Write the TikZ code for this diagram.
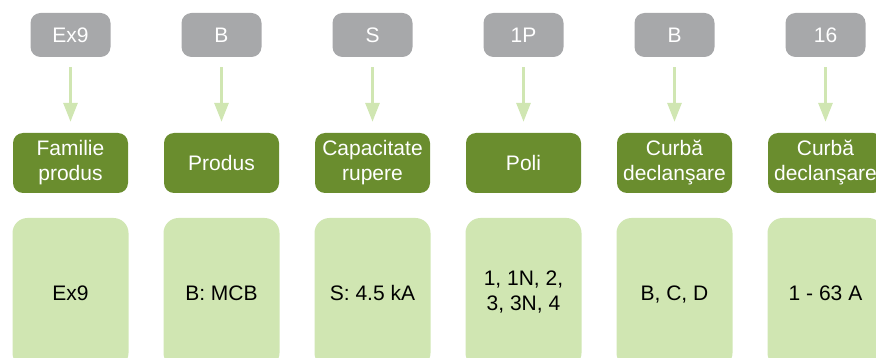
\documentclass[tikz,border=0pt]{standalone}
\usepackage{fontspec}
\setmainfont{Liberation Sans}
\usetikzlibrary{arrows.meta}
\definecolor{codegray}{HTML}{A7A8AA}
\definecolor{catgreen}{HTML}{6A8D2E}
\definecolor{valgreen}{HTML}{D0E6B2}
\definecolor{arrgreen}{HTML}{D0E6B2}
\newcommand{\boxstrut}{\rule[-5pt]{0pt}{25pt}}
\tikzset{
  boxtext/.style={font=\fontsize{21}{25}\selectfont, execute at begin node={\boxstrut}, execute at end node={\boxstrut}},
  codebox/.style={boxtext, fill=codegray, draw=none, rounded corners=10pt, minimum width=80pt, minimum height=44pt, text=white, inner sep=0pt},
  catbox/.style={boxtext, fill=catgreen, draw=none, rounded corners=10pt, minimum width=115pt, minimum height=60pt, text=white, align=center, inner sep=0pt},
  valbox/.style={boxtext, fill=valgreen, draw=none, rounded corners=15pt, minimum width=116pt, minimum height=150pt, text=black, align=center, inner sep=0pt},
  flow/.style={draw=arrgreen, line width=3pt, -{Triangle[width=14pt,length=19pt]}, shorten <=10pt, shorten >=11pt}
}
\begin{document}
\begin{tikzpicture}[x=1pt,y=-1pt]
\useasboundingbox (0,0) rectangle (876,358);
\clip (0,0) rectangle (876,358);
\foreach \i/\code/\cat/\val in {
  0/Ex9/{Familie\\produs}/Ex9,
  1/B/Produs/{B: MCB},
  2/S/{Capacitate\\rupere}/{S: 4.5 kA},
  3/1P/Poli/{1, 1N, 2,\\3, 3N, 4},
  4/B/{Curbă\\declanşare}/{B, C, D},
  5/16/{Curbă\\declanşare}/{1 - 63 A}}{
  \node[codebox] (c\i) at (70.5+151*\i, 35) {\code};
  \node[catbox] (k\i) at (70.5+151*\i, 163) {\cat};
  \node[valbox] (v\i) at (70.5+151*\i, 293) {\val};
  \draw[flow] (c\i) -- (k\i);
}
\end{tikzpicture}
\end{document}
